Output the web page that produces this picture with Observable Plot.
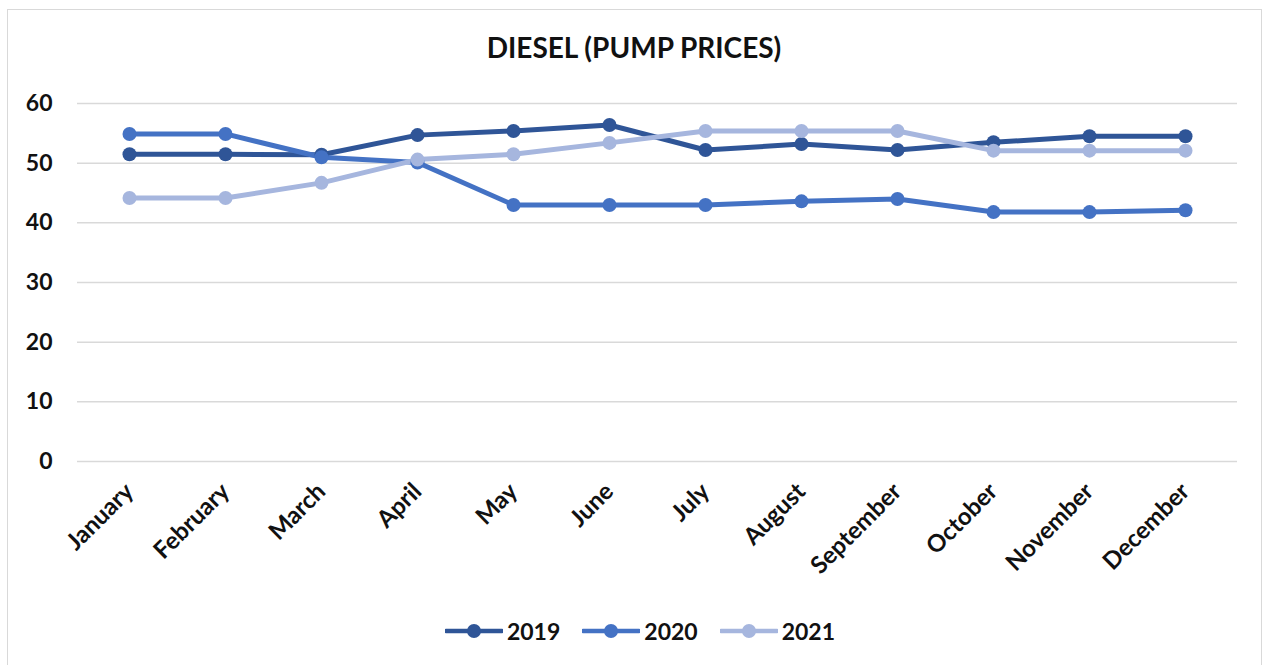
<!DOCTYPE html>
<html>
<head>
<meta charset="utf-8">
<script src="https://cdn.jsdelivr.net/npm/d3@7"></script>
<script src="https://cdn.jsdelivr.net/npm/@observablehq/plot@0.6"></script>
<style>
  body { margin: 0; background: #fff; font-family: Lato, "Open Sans", sans-serif; }
  #frame { position: absolute; left: 7px; top: 9px; width: 1255px; height: 680px; border: 1.5px solid #d9d9d9; box-sizing: border-box; }
  #title { position: absolute; left: 0; top: 30px; width: 1268px; text-align: center; font-weight: 700; font-size: 28px; color: #111; }
  #chart { position: absolute; left: 0; top: 80px; }
  #legend { position: absolute; left: 0; top: 617px; width: 1280px; display: flex; justify-content: center; gap: 22px; align-items: center; }
  .item { display: flex; align-items: center; gap: 4px; font-weight: 700; font-size: 23px; color: #111; }
</style>
</head>
<body>
<div id="frame"></div>
<div id="title">DIESEL (PUMP PRICES)</div>
<div id="chart"></div>
<div id="legend"></div>
<script>
const months = ["January", "February", "March", "April", "May", "June",
  "July", "August", "September", "October", "November", "December"];
const years = ["2019", "2020", "2021"];
const prices2019 = [51.5, 51.5, 51.4, 54.7, 55.4, 56.4, 52.2, 53.2, 52.2, 53.5, 54.5, 54.5];
const prices2020 = [54.9, 54.9, 51.0, 50.1, 43.0, 43.0, 43.0, 43.6, 44.0, 41.8, 41.8, 42.1];
const prices2021 = [44.15, 44.15, 46.7, 50.6, 51.5, 53.4, 55.4, 55.4, 55.4, 52.1, 52.1, 52.1];
const yTicks = [0, 10, 20, 30, 40, 50, 60];
const colors = ["#2f5597", "#4472c4", "#a6b6de"];

const series = [prices2019, prices2020, prices2021];
const rows = years.flatMap((year, i) =>
  months.map((month, j) => ({ year, month, price: series[i][j] })));

const chart = Plot.plot({
  width: 1265,
  height: 520,
  marginLeft: 77,
  marginRight: 28,
  marginTop: 23,
  marginBottom: 139,
  style: { fontFamily: "Lato, 'Open Sans', sans-serif", color: "#111", background: "transparent" },
  x: { type: "point", domain: months, padding: 0.5 },
  y: { domain: [0, 60] },
  color: { domain: years, range: colors },
  marks: [
    Plot.gridY(yTicks, { stroke: "#d9d9d9", strokeOpacity: 1, strokeWidth: 1.5 }),
    Plot.axisY(yTicks, { tickSize: 0, tickPadding: 25, fontSize: 23, fontWeight: 700, label: null }),
    Plot.axisX({ tickSize: 0, tickPadding: 26, tickRotate: -45, fontSize: 24, fontWeight: 700, label: null }),
    Plot.line(rows, { x: "month", y: "price", z: "year", stroke: "year", strokeWidth: 5 }),
    Plot.dot(rows, { x: "month", y: "price", fill: "year", r: 7 })
  ]
});
document.getElementById("chart").append(chart);

// Legend: line sample with a dot, then the year
const legend = d3.select("#legend");
years.forEach((year, i) => {
  const item = legend.append("div").attr("class", "item");
  const sw = item.append("svg").attr("width", 58).attr("height", 16);
  sw.append("line").attr("x1", 1).attr("x2", 57).attr("y1", 8).attr("y2", 8)
    .attr("stroke", colors[i]).attr("stroke-width", 4.5).attr("stroke-linecap", "round");
  sw.append("circle").attr("cx", 29).attr("cy", 8).attr("r", 7).attr("fill", colors[i]);
  item.append("span").text(year);
});
</script>
</body>
</html>
